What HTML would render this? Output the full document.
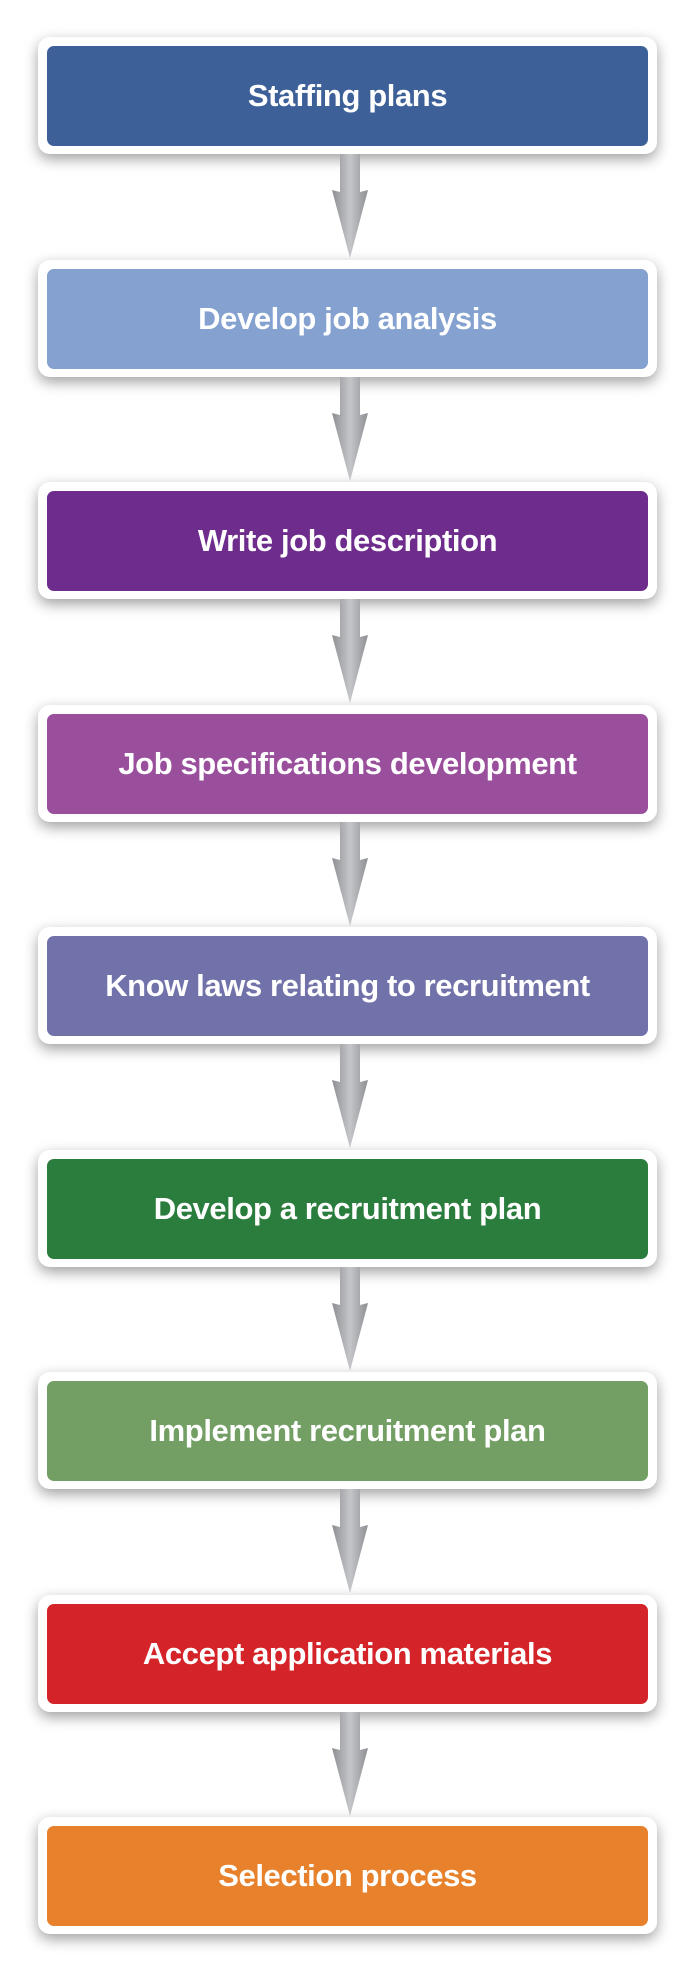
<!DOCTYPE html>
<html><head><meta charset="utf-8"><style>
body{margin:0;width:692px;height:1971px;background:#fff;position:relative;overflow:hidden;font-family:"Liberation Sans",sans-serif}
.b{position:absolute;left:38px;width:619px;height:117px;background:#fff;border-radius:12px;box-shadow:0 5px 14px rgba(0,0,0,.38)}
.b div{position:absolute;left:9px;right:9px;top:9px;bottom:8px;border-radius:7px;color:#fff;font-weight:bold;font-size:31px;display:flex;align-items:center;justify-content:center;letter-spacing:-0.4px}
.a{position:absolute;left:330px;width:40px;height:106px}
</style></head><body>
<div class="b" style="top:37px"><div style="background:#3D6098">Staffing plans</div></div>
<div class="b" style="top:260px"><div style="background:#84A1D0">Develop job analysis</div></div>
<div class="b" style="top:482px"><div style="background:#6E2C8C">Write job description</div></div>
<div class="b" style="top:705px"><div style="background:#9A4F9D">Job specifications development</div></div>
<div class="b" style="top:927px"><div style="background:#7272AA">Know laws relating to recruitment</div></div>
<div class="b" style="top:1150px"><div style="background:#2A7D3C">Develop a recruitment plan</div></div>
<div class="b" style="top:1372px"><div style="background:#739F65">Implement recruitment plan</div></div>
<div class="b" style="top:1595px"><div style="background:#D4242A">Accept application materials</div></div>
<div class="b" style="top:1817px"><div style="background:#E8812C">Selection process</div></div>
<svg width="0" height="0" style="position:absolute"><defs><linearGradient id="g" x1="0" x2="1"><stop offset="0" stop-color="#8d8f93"/><stop offset="0.5" stop-color="#c4c6c9"/><stop offset="1" stop-color="#8d8f93"/></linearGradient></defs></svg>
<svg class="a" style="top:154px" viewBox="0 0 40 106"><path d="M10 0H30V38L38 36L20 104L2 36L10 38Z" fill="url(#g)"/></svg>
<svg class="a" style="top:377px" viewBox="0 0 40 106"><path d="M10 0H30V38L38 36L20 104L2 36L10 38Z" fill="url(#g)"/></svg>
<svg class="a" style="top:599px" viewBox="0 0 40 106"><path d="M10 0H30V38L38 36L20 104L2 36L10 38Z" fill="url(#g)"/></svg>
<svg class="a" style="top:822px" viewBox="0 0 40 106"><path d="M10 0H30V38L38 36L20 104L2 36L10 38Z" fill="url(#g)"/></svg>
<svg class="a" style="top:1044px" viewBox="0 0 40 106"><path d="M10 0H30V38L38 36L20 104L2 36L10 38Z" fill="url(#g)"/></svg>
<svg class="a" style="top:1267px" viewBox="0 0 40 106"><path d="M10 0H30V38L38 36L20 104L2 36L10 38Z" fill="url(#g)"/></svg>
<svg class="a" style="top:1489px" viewBox="0 0 40 106"><path d="M10 0H30V38L38 36L20 104L2 36L10 38Z" fill="url(#g)"/></svg>
<svg class="a" style="top:1712px" viewBox="0 0 40 106"><path d="M10 0H30V38L38 36L20 104L2 36L10 38Z" fill="url(#g)"/></svg>
</body></html>
